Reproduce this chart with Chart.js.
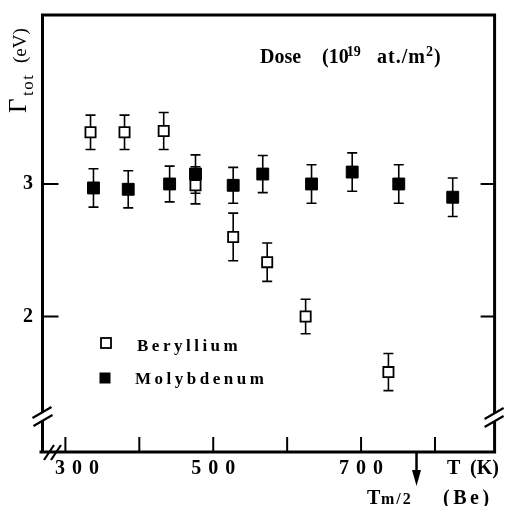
<!DOCTYPE html>
<html><head><meta charset="utf-8">
<script src="https://cdn.jsdelivr.net/npm/chart.js@4/dist/chart.umd.min.js"></script>
<style>html,body{margin:0;padding:0;background:#fff;}canvas{display:block;}</style>
</head><body>
<canvas id="c" width="505" height="506"></canvas>
<script>
// ---- data ----
const beT   = [334, 380, 433, 476, 527, 573, 625, 737];
const beG   = [3.39, 3.39, 3.40, 2.99, 2.60, 2.41, 2.00, 1.58];
const beErr = [0.13, 0.13, 0.14, 0.14, 0.18, 0.145, 0.13, 0.14];
const moT   = [338, 385, 441, 476, 527, 567, 633, 688, 751, 824];
const moG   = [2.97, 2.96, 3.00, 3.075, 2.99, 3.075, 3.00, 3.09, 3.00, 2.90];
const moErr = [0.145, 0.14, 0.135, 0.145, 0.135, 0.14, 0.145, 0.145, 0.145, 0.145];
const xTicks = [300, 400, 500, 600, 700, 800];
const xTickLabels = [300, 500, 700];
const yTicks = [2, 3];
const tmHalf = 775;

const SERIF = '"Liberation Serif", "DejaVu Serif", serif';

const deco = {
  id: 'deco',
  beforeDatasetsDraw(chart) {
    const ctx = chart.ctx, xs = chart.scales.x, ys = chart.scales.y;
    ctx.save();
    ctx.strokeStyle = '#000';
    ctx.lineWidth = 1.6;
    const bars = (T, G, E) => {
      for (let i = 0; i < T.length; i++) {
        const x = xs.getPixelForValue(T[i]);
        const y1 = ys.getPixelForValue(G[i] + E[i]);
        const y2 = ys.getPixelForValue(G[i] - E[i]);
        ctx.beginPath();
        ctx.moveTo(x, y1); ctx.lineTo(x, y2);
        ctx.moveTo(x - 5, y1); ctx.lineTo(x + 5, y1);
        ctx.moveTo(x - 5, y2); ctx.lineTo(x + 5, y2);
        ctx.stroke();
      }
    };
    bars(beT, beG, beErr);
    bars(moT, moG, moErr);
    ctx.restore();
  },
  afterDraw(chart) {
    const ctx = chart.ctx, xs = chart.scales.x, ys = chart.scales.y;
    const ca = chart.chartArea;
    const L = ca.left + 1.5, R = ca.right - 1, T = ca.top + 1, B = ca.bottom;
    ctx.save();
    ctx.strokeStyle = '#000';
    ctx.fillStyle = '#000';
    ctx.lineCap = 'butt';
    // frame
    ctx.lineWidth = 3;
    ctx.beginPath();
    ctx.moveTo(L, 412); ctx.lineTo(L, T); ctx.lineTo(R, T); ctx.lineTo(R, 413);
    ctx.moveTo(L, 421); ctx.lineTo(L, B); ctx.lineTo(R, B); ctx.lineTo(R, 422);
    ctx.moveTo(L - 3, B); ctx.lineTo(L, B);
    ctx.stroke();
    // axis breaks
    ctx.lineWidth = 2.2;
    ctx.beginPath();
    [[L, 412], [L + 1, 420], [R, 413], [R, 421]].forEach(([cx, cy]) => {
      ctx.moveTo(cx - 10, cy + 6); ctx.lineTo(cx + 9, cy - 5);
    });
    ctx.moveTo(44, 460); ctx.lineTo(54, 445);
    ctx.moveTo(51, 460); ctx.lineTo(61, 445);
    ctx.stroke();
    // ticks
    ctx.lineWidth = 2;
    ctx.beginPath();
    xTicks.forEach(v => {
      const x = xs.getPixelForValue(v);
      ctx.moveTo(x, B); ctx.lineTo(x, B - 15);
    });
    yTicks.forEach(v => {
      const y = ys.getPixelForValue(v);
      ctx.moveTo(L, y); ctx.lineTo(L + 16, y);
      ctx.moveTo(R, y); ctx.lineTo(R - 14, y);
    });
    ctx.stroke();
    // tick labels
    ctx.textBaseline = 'middle';
    ctx.font = 'bold 20px ' + SERIF;
    ctx.letterSpacing = '7px';
    ctx.textAlign = 'left';
    xTickLabels.forEach(v => {
      const s = String(v);
      const w = ctx.measureText(s).width - 7;
      let x = xs.getPixelForValue(v) - w / 2;
      if (x < 55) x = 55;
      ctx.fillText(s, x, 469);
    });
    ctx.letterSpacing = '0px';
    ctx.font = 'bold 20px ' + SERIF;
    ctx.textAlign = 'right';
    yTicks.forEach(v => ctx.fillText(String(v), 33, ys.getPixelForValue(v)));
    // x axis title
    ctx.textAlign = 'left';
    ctx.font = 'bold 20px ' + SERIF;
    ctx.fillText('T', 447, 469);
    ctx.fillText('(K)', 470, 469);
    // Tm/2 arrow
    const ax = xs.getPixelForValue(tmHalf);
    ctx.lineWidth = 2.5;
    ctx.beginPath(); ctx.moveTo(ax, B); ctx.lineTo(ax, 472); ctx.stroke();
    ctx.beginPath(); ctx.moveTo(ax - 4.5, 470); ctx.lineTo(ax + 4.5, 470); ctx.lineTo(ax, 486); ctx.closePath(); ctx.fill();
    ctx.textBaseline = 'alphabetic';
    ctx.font = 'bold 20px ' + SERIF;
    ctx.fillText('T', 367, 504);
    ctx.font = 'bold 16px ' + SERIF;
    ctx.letterSpacing = '2px';
    ctx.fillText('m/2', 381, 504);
    ctx.font = 'bold 20px ' + SERIF;
    ctx.letterSpacing = '3.5px';
    ctx.fillText('(Be)', 443, 504);
    ctx.letterSpacing = '0px';
    // Dose annotation (chained pieces)
    const piece = (s, x, y, size, sp) => {
      ctx.font = 'bold ' + size + 'px ' + SERIF;
      ctx.letterSpacing = (sp || 0) + 'px';
      ctx.fillText(s, x, y);
      const w = ctx.measureText(s).width;
      ctx.letterSpacing = '0px';
      return x + w;
    };
    piece('Dose', 260, 63, 20);
    let px = piece('(10', 322, 63, 20);
    piece('19', px - 2, 56, 14);
    px = piece('at./m', 377, 63, 20, 1);
    px = piece('2', px, 56, 14);
    piece(')', px + 1, 63, 20);
    // legend
    ctx.lineWidth = 1.8;
    ctx.fillStyle = '#fff';
    ctx.fillRect(101, 338, 10, 10);
    ctx.strokeRect(101, 338, 10, 10);
    ctx.fillStyle = '#000';
    ctx.fillRect(99.5, 372.5, 11, 11);
    ctx.font = 'bold 17px ' + SERIF;
    ctx.letterSpacing = '3.5px';
    ctx.fillText('Beryllium', 137, 351);
    ctx.fillText('Molybdenum', 135, 384);
    ctx.letterSpacing = '0px';
    // y axis title (rotated)
    ctx.translate(26, 113);
    ctx.rotate(-Math.PI / 2);
    ctx.font = '25px ' + SERIF;
    ctx.fillText('\u0393', 0, 0);
    ctx.font = '17px ' + SERIF;
    ctx.letterSpacing = '1.5px';
    ctx.fillText('tot', 17, 7);
    ctx.letterSpacing = '0px';
    ctx.font = '19px ' + SERIF;
    ctx.fillText('(eV)', 50, 0);
    ctx.restore();
  }
};

new Chart(document.getElementById('c'), {
  type: 'scatter',
  data: {
    datasets: [
      {
        label: 'Beryllium',
        data: beT.map((t, i) => ({ x: t, y: beG[i] })),
        pointStyle: 'rect', pointRadius: 7.2, pointHoverRadius: 7.2,
        backgroundColor: '#fff', borderColor: '#000', borderWidth: 1.8
      },
      {
        label: 'Molybdenum',
        data: moT.map((t, i) => ({ x: t, y: moG[i] })),
        pointStyle: 'rect', pointRadius: 8.4, pointHoverRadius: 8.4,
        backgroundColor: '#000', borderColor: '#000', borderWidth: 1
      }
    ]
  },
  options: {
    responsive: false,
    animation: false,
    events: [],
    layout: { padding: { left: 41, right: 5, top: 14, bottom: 54 } },
    plugins: { legend: { display: false }, tooltip: { enabled: false } },
    scales: {
      x: { type: 'linear', display: false, min: 267, max: 882 },
      y: { type: 'linear', display: false, min: 0.977, max: 4.283 }
    }
  },
  plugins: [deco]
});
</script>
</body></html>
